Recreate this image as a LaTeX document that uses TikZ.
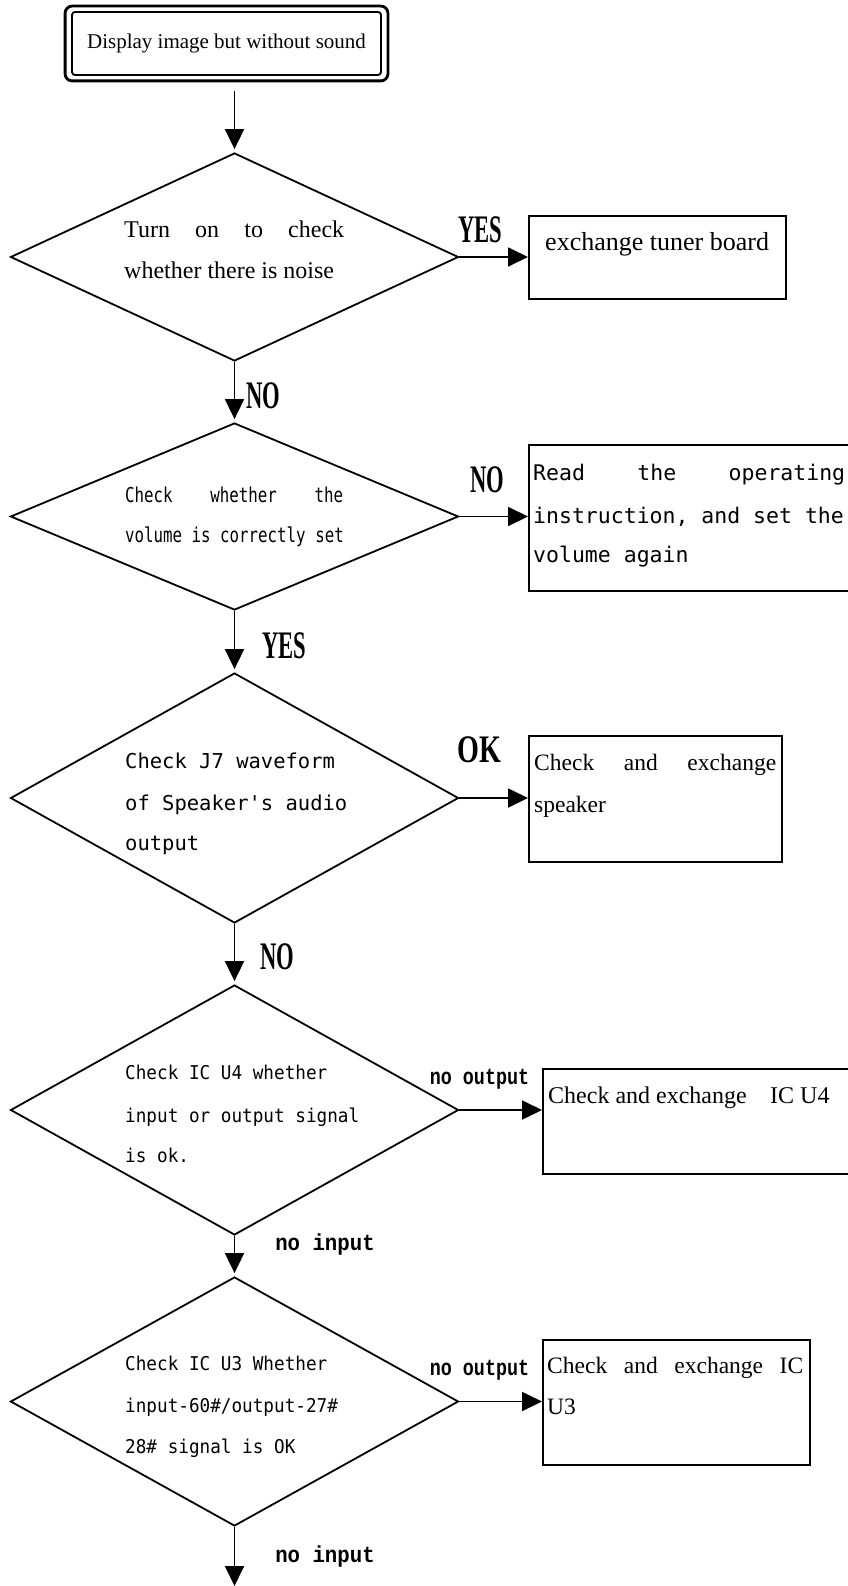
\documentclass[tikz,border=0pt]{standalone}
\usepackage{fontspec}
\setmainfont{Liberation Serif}
\newfontfamily\dmono[Ligatures=TeXOff]{DejaVu Sans Mono}
\newfontfamily\dmonoN[Ligatures=TeXOff,FakeStretch=0.77]{DejaVu Sans Mono}
\newfontfamily\dmonoM[Ligatures=TeXOff,FakeStretch=0.93]{DejaVu Sans Mono}
\newfontfamily\labserif[FakeStretch=0.58]{Liberation Serif}
\newfontfamily\labserifw[FakeStretch=0.72]{Liberation Serif}
\newfontfamily\labmono[FakeStretch=0.8]{Liberation Mono}
\newfontfamily\labmonow[FakeStretch=0.9]{Liberation Mono}
\usetikzlibrary{shapes.geometric,arrows.meta}
\begin{document}
\begin{tikzpicture}[x=1pt,y=-1pt,
  dia/.style={diamond,draw,line width=1.8pt,inner sep=0pt,minimum width=448pt},
  box/.style={draw,line width=2pt,inner sep=0pt,anchor=north west},
  arr/.style={line width=1.8pt,-{Triangle[length=20pt,width=19pt]}},
  tx/.style={anchor=base west,inner sep=0pt},
  serifA/.style={font=\fontsize{24}{24}\selectfont},
  lab/.style={inner sep=0pt,font=\labserif\bfseries\fontsize{39}{39}\selectfont},
  labw/.style={inner sep=0pt,font=\labserifw\bfseries\fontsize{39}{39}\selectfont},
  nout/.style={inner sep=0pt,font=\labmono\bfseries\fontsize{23}{23}\selectfont},
  nin/.style={inner sep=0pt,font=\labmonow\bfseries\fontsize{23}{23}\selectfont},
  monoL/.style={tx,font=\dmono\fontsize{20.5}{20.5}\selectfont},
  monoN/.style={tx,font=\dmonoN\fontsize{20.5}{20.5}\selectfont},
  monoM/.style={tx,font=\dmonoM\fontsize{19}{19}\selectfont},
  monoB/.style={tx,font=\dmono\fontsize{21.5}{21.5}\selectfont}
]
\useasboundingbox (0,0) rectangle (847,1586);
\fill[white] (0,0) rectangle (847,1586);

% start box
\node[draw,line width=1.8pt,rounded corners=3pt,minimum width=309pt,minimum height=63pt,inner sep=0pt,
      font=\fontsize{21}{21}\selectfont] (top) at (226.5,43.5) {Display image but without sound};
\draw[line width=2.8pt,rounded corners=7pt] ([shift={(-6,-5)}]top.north west) rectangle ([shift={(6,5)}]top.south east);

% diamonds
\node[dia,minimum height=208pt] (d1) at (234.5,257) {};
\node[dia,minimum height=187pt] (d2) at (234.5,516.5) {};
\node[dia,minimum height=250pt] (d3) at (234.5,798) {};
\node[dia,minimum height=250pt] (d4) at (234.5,1110) {};
\node[dia,minimum height=249pt] (d5) at (234.5,1401.5) {};
\coordinate (end) at (234.5,1586);

% boxes
\node[box,minimum width=257pt,minimum height=83pt] (b1) at (528,215) {};
\node[box,minimum width=330pt,minimum height=146pt] (b2) at (528,444) {};
\node[box,minimum width=253pt,minimum height=126pt] (b3) at (528,735) {};
\node[box,minimum width=320pt,minimum height=105pt] (b4) at (542,1068) {};
\node[box,minimum width=267pt,minimum height=125pt] (b5) at (542,1339) {};

% vertical connectors
\draw[arr,shorten <=15pt,shorten >=3pt] (d1.north |- top.south) -- (d1.north);
\draw[arr,shorten >=3pt] (d1.south) -- (d2.north);
\draw[arr,shorten >=3pt] (d2.south) -- (d3.north);
\draw[arr,shorten >=3pt] (d3.south) -- (d4.north);
\draw[arr,shorten >=3pt] (d4.south) -- (d5.north);
\draw[arr] (d5.south) -- (end);

% horizontal connectors
\draw[arr] (d1.east) -- (d1.east -| b1.west);
\draw[arr] (d2.east) -- (d2.east -| b2.west);
\draw[arr] (d3.east) -- (d3.east -| b3.west);
\draw[arr] (d4.east) -- (d4.east -| b4.west);
\draw[arr] (d5.east) -- (d5.east -| b5.west);

% diamond texts
\node[tx,serifA] (d1a) at (124,238) {\makebox[220pt][s]{Turn on to check}};
\node[tx,serifA] (d1b) at (124,279) {whether there is noise};

\node[monoN] (d2a) at (125,502) {\makebox[218pt][s]{Check whether the}};
\node[monoN] (d2b) at (125,542) {volume is correctly set};

\node[monoL] (d3a) at (125,768) {Check J7 waveform};
\node[monoL] (d3b) at (125,810) {of Speaker's audio};
\node[monoL] (d3c) at (125,850) {output};

\node[monoM] (d4a) at (125,1079) {Check IC U4 whether};
\node[monoM] (d4b) at (125,1122) {input or output signal};
\node[monoM] (d4c) at (125,1162) {is ok.};

\node[monoM] (d5a) at (125,1370) {Check IC U3 Whether};
\node[monoM] (d5b) at (125,1412) {input-60\#/output-27\#};
\node[monoM] (d5c) at (125,1453) {28\# signal is OK};

% box texts
\node[tx,font=\fontsize{26}{26}\selectfont] (b1a) at (545,251) {exchange tuner board};

\node[monoB] (b2a) at (533,480) {\makebox[312pt][s]{Read the operating}};
\node[monoB] (b2b) at (533,523) {instruction, and set the};
\node[monoB] (b2c) at (533,562) {volume again};

\node[tx,font=\fontsize{23.5}{23.5}\selectfont] (b3a) at (534,770) {\makebox[242pt][s]{Check and exchange}};
\node[tx,font=\fontsize{23.5}{23.5}\selectfont] (b3b) at (534,812) {speaker};

\node[tx,font=\fontsize{24}{24}\selectfont] (b4a) at (548,1103) {\makebox[222pt][l]{Check and exchange}IC U4};

\node[tx,font=\fontsize{23.5}{23.5}\selectfont] (b5a) at (547,1373) {\makebox[256pt][s]{Check and exchange IC}};
\node[tx,font=\fontsize{23.5}{23.5}\selectfont] (b5b) at (547,1414) {U3};

% labels
\node[lab] (yes1) at (480,229.5) {YES};
\node[lab] (no1) at (263,396) {NO};
\node[lab] (no2) at (487,480) {NO};
\node[lab] (yes2) at (284,646) {YES};
\node[labw] (ok) at (479,749.5) {OK};
\node[lab] (no3) at (277,957) {NO};
\node[nout] (nout1) at (479.5,1079) {no output};
\node[nin] (nin1) at (325,1245) {no input};
\node[nout] (nout2) at (479.5,1370) {no output};
\node[nin] (nin2) at (325,1557) {no input};
\end{tikzpicture}
\end{document}
